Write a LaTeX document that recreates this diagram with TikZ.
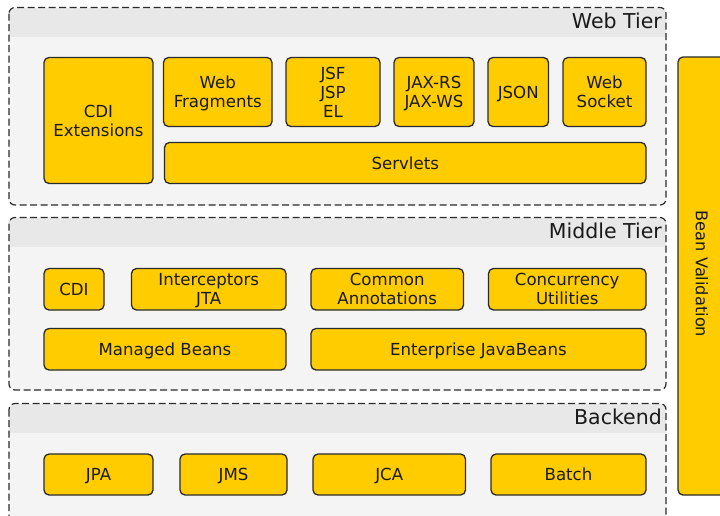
\documentclass[tikz,border=0pt]{standalone}
\usepackage{fontspec}
\setmainfont{DejaVu Sans}
\definecolor{boxfill}{HTML}{FFCC00}
\definecolor{edge}{HTML}{2B2B2B}
\definecolor{tierbody}{HTML}{F4F4F4}
\definecolor{tierband}{HTML}{E8E8E8}
\definecolor{ink}{HTML}{1A1A1A}
\tikzset{
  x=1pt, y=-1pt,
  comp/.style={draw=edge, line width=1.3pt, fill=boxfill, rounded corners=5pt,
    inner sep=0pt, align=center, text=ink, font=\fontsize{16.6}{19}\selectfont,
    text depth=0pt},
  tierframe/.style={draw=edge, line width=1.2pt, dash pattern=on 7pt off 3.5pt, rounded corners=6pt},
  tiertitle/.style={anchor=base east, inner sep=0pt, text=ink, font=\fontsize{20.5}{24}\selectfont}
}
\newcommand\compbox[6]{%
  \node[comp, minimum width={(#4-#2)*1pt}, minimum height={(#5-#3)*1pt}]
    (#1) at ({(#2+#4)/2},{(#3+#5)/2}) {#6};}
\newcommand\tierbox[6]{% name x1 y1 x2 y2 title
  \fill[tierbody, rounded corners=6pt] (#2,#3) rectangle (#4,#5);
  \begin{scope}
    \clip[rounded corners=6pt] (#2,#3) rectangle (#4,#5);
    \fill[tierband] (#2,#3) rectangle (#4,#3+29.5);
  \end{scope}
  \node[draw=none, inner sep=0pt, minimum width={(#4-#2)*1pt}, minimum height={(#5-#3)*1pt}]
    (#1) at ({(#2+#4)/2},{(#3+#5)/2}) {};
  \draw[tierframe] (#2,#3) rectangle (#4,#5);
  \node[tiertitle] (#1title) at (#4-4,#3+21) {#6};}
\begin{document}
\begin{tikzpicture}
\useasboundingbox (0,0) rectangle (720,515);
\clip (0,0) rectangle (720,515);
\fill[white] (0,0) rectangle (720,515);
% Tiers
\tierbox{web}{9}{7.5}{666}{205}{Web Tier}
\tierbox{middle}{9}{217.5}{666}{390}{Middle Tier}
\tierbox{backend}{9}{403.5}{666}{530}{Backend}
% Web tier components
\compbox{cdiext}{44}{57.5}{153}{183.5}{CDI\\Extensions}
\compbox{webfrag}{163.5}{57.5}{272}{126.5}{Web\\Fragments}
\compbox{jsf}{286}{57.5}{380}{126.5}{JSF\\JSP\\EL}
\compbox{jax}{394}{57.5}{474}{126.5}{JAX-RS\\JAX-WS}
\compbox{json}{488}{57.5}{548.5}{126.5}{JSON}
\compbox{websock}{563}{57.5}{646}{126.5}{Web\\Socket}
\compbox{servlets}{164.5}{142.5}{646}{183.5}{Servlets}
% Middle tier components
\compbox{cdi}{44}{268.5}{104}{310}{CDI}
\compbox{interc}{131.5}{268.5}{286}{310}{Interceptors\\JTA}
\compbox{common}{311}{268.5}{463.5}{310}{Common\\Annotations}
\compbox{concur}{488.5}{268.5}{646}{310}{Concurrency\\Utilities}
\compbox{managed}{44}{328.5}{286}{370}{Managed Beans}
\compbox{ejb}{311}{328.5}{646}{370}{Enterprise JavaBeans}
% Backend components
\compbox{jpa}{44}{454}{153}{495}{JPA}
\compbox{jms}{180}{454}{287}{495}{JMS}
\compbox{jca}{313}{454}{465.5}{495}{JCA}
\compbox{batch}{491}{454}{646}{495}{Batch}
% Bean Validation
\node[comp, minimum width=50pt, minimum height=438pt] (beanval) at (703,276) {};
\node[rotate=-90, inner sep=0pt, text=ink, font=\fontsize{16.2}{19}\selectfont] (beanvaltext) at (702,274) {Bean Validation};
\end{tikzpicture}
\end{document}
